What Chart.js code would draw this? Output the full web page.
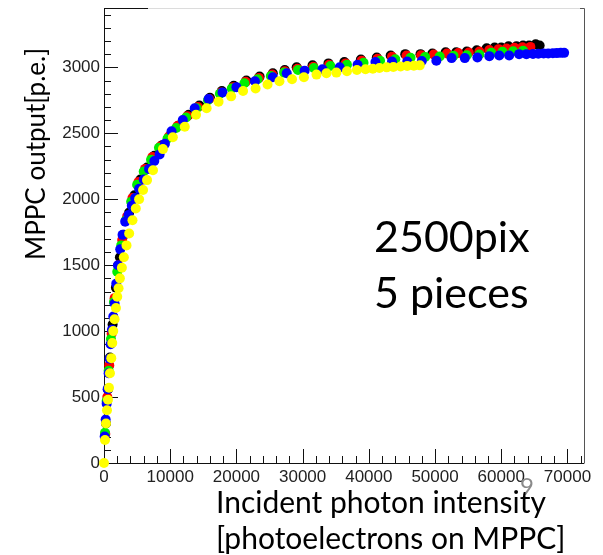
<!DOCTYPE html>
<html>
<head>
<meta charset="utf-8">
<script src="https://cdn.jsdelivr.net/npm/chart.js@4.4.1/dist/chart.umd.min.js"></script>
<style>
  html, body { margin: 0; padding: 0; background: #fff; }
  #wrap { position: relative; width: 603px; height: 555px; overflow: hidden; }
  canvas { position: absolute; left: 0; top: 0; }
  .txt { position: absolute; font-family: Lato, sans-serif; color: #000; white-space: nowrap; line-height: 1; }
  #ytitle { left: 22px; top: 260px; font-size: 26px; transform-origin: 0 0; transform: rotate(-90deg); }
  #xt1 { left: 216px; top: 486px; font-size: 30px; }
  #xt2 { left: 216px; top: 522px; font-size: 30px; }
  #pix { left: 374px; top: 214px; font-size: 43px; }
  #pcs { left: 374px; top: 270px; font-size: 43px; }
  #pg { left: 520px; top: 474px; font-size: 24px; color: #8a8a8a; }
</style>
</head>
<body>
<div id="wrap">
  <canvas id="chart" width="603" height="555"></canvas>
  <div class="txt" id="pg">9</div>
  <div class="txt" id="ytitle">MPPC output[p.e.]</div>
  <div class="txt" id="xt1">Incident photon intensity</div>
  <div class="txt" id="xt2">[photoelectrons on MPPC]</div>
  <div class="txt" id="pix">2500pix</div>
  <div class="txt" id="pcs">5 pieces</div>
</div>
<script>
// tick labels
const xTicks = [0, 10000, 20000, 30000, 40000, 50000, 60000, 70000];
const yTicks = [0, 500, 1000, 1500, 2000, 2500, 3000];

// incident photons [p.e. on MPPC] and MPPC output [p.e.] per piece
const yellowX = [0, 150, 300, 450, 600, 750, 900, 1100, 1250, 1400, 1600, 1800, 2000, 2200, 2400, 2700, 3000, 3400, 3800, 4300, 4800, 5300, 5900, 6500, 7400, 8900, 10400, 12200, 13900, 15500, 17300, 19200, 21000, 22900, 24700, 26500, 28400, 30200, 32100, 33600, 35100, 36700, 38200, 39500, 40600, 41600, 42700, 43700, 44800, 45800, 46800, 47700];
const yellowY = [0, 175, 300, 400, 480, 570, 680, 795, 910, 1000, 1090, 1175, 1260, 1325, 1400, 1480, 1560, 1650, 1740, 1840, 1930, 2000, 2070, 2145, 2220, 2380, 2470, 2550, 2640, 2690, 2740, 2780, 2820, 2840, 2870, 2895, 2910, 2925, 2945, 2955, 2960, 2970, 2980, 2985, 2990, 2995, 3000, 3003, 3007, 3010, 3013, 3015];

const blueX = [100, 250, 400, 550, 700, 850, 1000, 1200, 1400, 1600, 1850, 2100, 2450, 2800, 3200, 3700, 4200, 4700, 5300, 6000, 6800, 7600, 8400, 9200, 10200, 11900, 13700, 15800, 17900, 20000, 22800, 25500, 27600, 30300, 33000, 35600, 38300, 41000, 43500, 45800, 48000, 50200, 52500, 54500, 56400, 58200, 59700, 61200, 62700, 63800, 64800, 65600, 66400, 67100, 67800, 68400, 69000, 69500];
const blueY = [200, 330, 450, 560, 680, 790, 900, 1010, 1110, 1210, 1360, 1500, 1620, 1730, 1830, 1880, 1950, 2010, 2080, 2150, 2230, 2290, 2340, 2420, 2515, 2600, 2690, 2760, 2810, 2850, 2895, 2925, 2955, 2975, 2985, 3000, 3020, 3040, 3045, 3045, 3048, 3050, 3070, 3070, 3075, 3085, 3090, 3090, 3100, 3100, 3102, 3103, 3105, 3105, 3107, 3108, 3110, 3110];

const greenX = [150, 400, 700, 1050, 1500, 2000, 2600, 3300, 4100, 5000, 6000, 7100, 8300, 9600, 10900, 12400, 14000, 15700, 17500, 19300, 21200, 23200, 25200, 27200, 29300, 31700, 34200, 36700, 39200, 41700, 44000, 46300, 48500, 50700, 52800, 54800, 56700, 58500, 60200, 61800, 63300];
const greenY = [230, 470, 700, 940, 1220, 1450, 1650, 1840, 1980, 2110, 2210, 2300, 2390, 2460, 2540, 2620, 2690, 2750, 2800, 2840, 2880, 2910, 2935, 2960, 2980, 2995, 3010, 3020, 3035, 3050, 3062, 3072, 3078, 3082, 3088, 3092, 3098, 3110, 3118, 3122, 3125];

const redX = [200, 500, 800, 1150, 1600, 2150, 2750, 3500, 4300, 5200, 6200, 7300, 8500, 9800, 11100, 12600, 14200, 15900, 17700, 19500, 21400, 23400, 25400, 27300, 29200, 31600, 34000, 36500, 38900, 41300, 43500, 45700, 47900, 49800, 51800, 53500, 55100, 56700, 58200, 59600, 60800, 62000, 63200, 64400];
const redY = [220, 500, 740, 980, 1250, 1500, 1690, 1870, 2010, 2130, 2230, 2320, 2400, 2475, 2555, 2630, 2700, 2760, 2810, 2850, 2890, 2920, 2945, 2970, 2990, 3005, 3020, 3030, 3050, 3065, 3080, 3090, 3092, 3097, 3105, 3108, 3112, 3120, 3132, 3138, 3142, 3148, 3152, 3155];

const blackX = [300, 600, 900, 1300, 1800, 2400, 3000, 3800, 4600, 5500, 6500, 7600, 8800, 10000, 11300, 12800, 14400, 16000, 17800, 19600, 21500, 23500, 25500, 27300, 29100, 31500, 33900, 36300, 38800, 41200, 43300, 45500, 47800, 49600, 51600, 53200, 54800, 56300, 57800, 59000, 60000, 61100, 62300, 63300, 64200, 65200, 65800];
const blackY = [300, 560, 800, 1050, 1330, 1560, 1730, 1900, 2030, 2150, 2240, 2330, 2410, 2480, 2560, 2640, 2710, 2770, 2820, 2860, 2900, 2930, 2955, 2980, 3000, 3015, 3030, 3040, 3060, 3075, 3090, 3100, 3100, 3105, 3115, 3115, 3120, 3130, 3145, 3150, 3150, 3160, 3160, 3165, 3165, 3175, 3165];

const pts = (xs, ys) => xs.map((x, i) => ({ x: x, y: ys[i] }));

function series(xs, ys, color) {
  return {
    data: pts(xs, ys),
    backgroundColor: color,
    borderWidth: 0,
    pointRadius: 5,
    showLine: false,
    clip: false
  };
}

// inward ROOT-style ticks and the frame
const framePlugin = {
  id: 'frame',
  beforeDatasetsDraw(chart) {
    const { ctx, chartArea: a, scales: { x, y } } = chart;
    ctx.save();
    ctx.strokeStyle = '#111';
    ctx.lineWidth = 1;
    ctx.beginPath();
    for (let v = 0; v <= y.max; v += 100) {
      const py = Math.round(y.getPixelForValue(v)) + 0.5;
      const len = v % 500 === 0 ? 14 : 7;
      ctx.moveTo(a.left, py);
      ctx.lineTo(a.left + len, py);
    }
    for (let v = 0; v <= x.max; v += 2000) {
      const px = Math.round(x.getPixelForValue(v)) + 0.5;
      const len = v % 10000 === 0 ? 14 : 7;
      ctx.moveTo(px, a.bottom);
      ctx.lineTo(px, a.bottom - len);
    }
    // left and bottom axis lines
    ctx.moveTo(a.left + 0.5, a.top);
    ctx.lineTo(a.left + 0.5, a.bottom + 0.5);
    ctx.lineTo(a.right, a.bottom + 0.5);
    // short dark start of the top line
    ctx.moveTo(a.left, a.top + 0.5);
    ctx.lineTo(a.left + 44, a.top + 0.5);
    ctx.stroke();

    ctx.beginPath();
    ctx.strokeStyle = '#dcdcdc';
    ctx.moveTo(a.left + 44, a.top + 0.5);
    ctx.lineTo(a.right - 4, a.top + 0.5);
    ctx.stroke();

    ctx.beginPath();
    ctx.strokeStyle = '#555';
    ctx.moveTo(a.right - 4, a.top + 0.5);
    ctx.lineTo(a.right + 0.5, a.top + 0.5);
    ctx.lineTo(a.right + 0.5, a.bottom + 0.5);
    ctx.stroke();
    ctx.restore();
  }
};

const tickFont = { family: 'Liberation Sans', size: 17 };

new Chart(document.getElementById('chart'), {
  type: 'scatter',
  data: {
    datasets: [
      series(yellowX, yellowY, '#ffff00'),
      series(blueX, blueY, '#0000ff'),
      series(greenX, greenY, '#00ee00'),
      series(redX, redY, '#ff0000'),
      series(blackX, blackY, '#000000')
    ]
  },
  options: {
    responsive: false,
    animation: false,
    events: [],
    layout: { padding: { top: 8, right: 19, left: 0, bottom: 0 } },
    plugins: { legend: { display: false }, tooltip: { enabled: false } },
    scales: {
      x: {
        type: 'linear',
        min: 0,
        max: 72500,
        afterBuildTicks: s => { s.ticks = xTicks.map(v => ({ value: v })); },
        afterFit: s => { s.height = 92; s.paddingLeft = 0; s.paddingRight = 0; },
        grid: { display: false, drawTicks: false },
        border: { display: false },
        ticks: { font: tickFont, color: '#222', padding: 4, maxRotation: 0, autoSkip: false, callback: v => String(v) }
      },
      y: {
        type: 'linear',
        min: 0,
        max: 3450,
        afterBuildTicks: s => { s.ticks = yTicks.map(v => ({ value: v })); },
        afterFit: s => { s.width = 104; s.paddingTop = 0; s.paddingBottom = 0; },
        grid: { display: false, drawTicks: false },
        border: { display: false },
        ticks: { font: tickFont, color: '#222', padding: 4, autoSkip: false, callback: v => String(v) }
      }
    }
  },
  plugins: [framePlugin]
});
</script>
</body>
</html>
